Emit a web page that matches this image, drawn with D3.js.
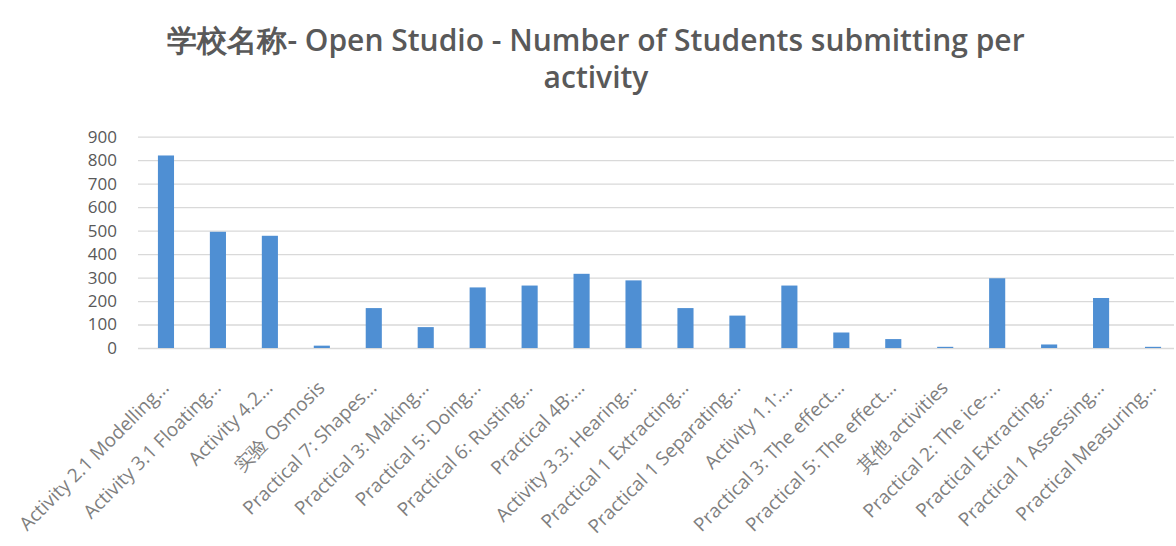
<!DOCTYPE html>
<html>
<head>
<meta charset="utf-8">
<script src="https://cdn.jsdelivr.net/npm/d3@7"></script>
<style>
  html, body { margin: 0; padding: 0; background: #ffffff; }
  svg { display: block; }
</style>
</head>
<body>
<svg id="chart" width="1176" height="546"></svg>
<script>
const titleLines = ["学校名称- Open Studio - Number of Students submitting per", "activity"];
const categories = [
  "Activity 2.1 Modelling...",
  "Activity 3.1 Floating...",
  "Activity 4.2...",
  "实验 Osmosis",
  "Practical 7: Shapes...",
  "Practical 3: Making...",
  "Practical 5: Doing...",
  "Practical 6: Rusting...",
  "Practical 4B:...",
  "Activity 3.3: Hearing...",
  "Practical 1 Extracting...",
  "Practical 1 Separating...",
  "Activity 1.1:...",
  "Practical 3: The effect...",
  "Practical 5: The effect...",
  "其他 activities",
  "Practical 2: The ice-...",
  "Practical Extracting...",
  "Practical 1 Assessing...",
  "Practical Measuring..."
];
const values = [820, 495, 478, 10, 170, 89, 258, 266, 316, 288, 170, 138, 266, 66, 38, 5, 297, 15, 213, 5];
const yTicks = [0, 100, 200, 300, 400, 500, 600, 700, 800, 900];

const svg = d3.select("#chart");

const x = d3.scaleBand()
  .domain(categories)
  .range([140, 1179])
  .paddingInner(0.69)
  .paddingOuter(0.345);

const y = d3.scaleLinear()
  .domain([0, 900])
  .range([348, 136.7]);

// title
svg.append("text")
  .attr("x", 596)
  .attr("text-anchor", "middle")
  .attr("font-family", "Open Sans, sans-serif")
  .attr("font-weight", 600)
  .attr("font-size", 30)
  .attr("fill", "#595959")
  .selectAll("tspan")
  .data(titleLines)
  .join("tspan")
  .attr("x", 596)
  .attr("y", (d, i) => 51 + i * 37)
  .text(d => d);

// gridlines
const grid = d3.axisLeft(y)
  .tickValues(yTicks)
  .tickSize(-(1174 - 138))
  .tickFormat("");
svg.append("g")
  .attr("transform", "translate(138,0)")
  .call(grid)
  .call(g => g.select(".domain").remove())
  .call(g => g.selectAll(".tick line").attr("stroke", "#d9d9d9").attr("stroke-width", 1.3));

// y labels
const yAxis = d3.axisLeft(y).tickValues(yTicks).tickSize(0).tickPadding(0);
svg.append("g")
  .attr("transform", "translate(117,0)")
  .call(yAxis)
  .call(g => g.select(".domain").remove())
  .call(g => g.selectAll(".tick text")
    .attr("font-family", "Open Sans, sans-serif")
    .attr("font-size", 17)
    .attr("fill", "#595959"));

// bars
svg.append("g")
  .selectAll("rect")
  .data(values)
  .join("rect")
  .attr("x", (d, i) => x(categories[i]))
  .attr("y", d => y(d))
  .attr("width", x.bandwidth())
  .attr("height", d => y(0) - y(d))
  .attr("fill", "#4f8fd3");

// x labels
const xAxis = d3.axisBottom(x).tickSize(0).tickPadding(0);
svg.append("g")
  .attr("transform", "translate(0,348)")
  .call(xAxis)
  .call(g => g.select(".domain").remove())
  .call(g => g.selectAll(".tick text")
    .attr("font-family", "Open Sans, sans-serif")
    .attr("font-size", 19)
    .attr("fill", "#7f7f7f")
    .attr("text-anchor", "end")
    .attr("dy", null)
    .attr("y", 0)
    .attr("transform", "translate(4,41) rotate(-45)"));
</script>
</body>
</html>
